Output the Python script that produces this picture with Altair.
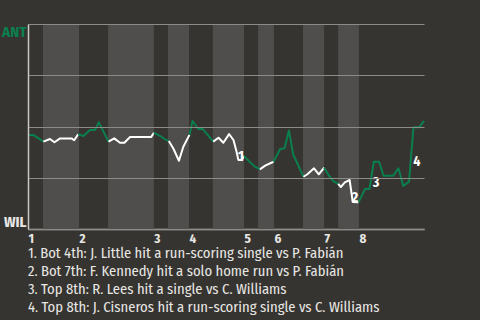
import bisect
import altair as alt
import pandas as pd

# ---- data ----
play = [0.0, 1.2, 3.5, 5.0, 6.0, 7.3, 9.9, 10.5, 11.4, 12.6, 14.1, 15.2, 16.1, 18.3,
        19.6, 20.9, 21.9, 23.2, 28.0, 28.6, 30.0, 31.1, 32.0, 33.0, 34.3, 35.3, 36.7,
        37.4, 38.7, 39.7, 42.1, 43.3, 44.4, 45.7, 46.7, 47.4, 47.8, 48.6, 49.1, 50.5,
        51.6, 52.7, 53.9, 55.8, 57.3, 58.3, 59.3, 60.3, 61.4, 62.6, 63.5, 65.0, 66.1,
        67.3, 68.3, 69.4, 70.5, 71.1, 72.0, 73.1, 73.8, 75.1, 76.6, 77.6, 78.6, 79.8,
        80.8, 83.0, 84.2, 85.3, 86.6, 87.6, 88.9, 90.0]
win_prob = [0.459, 0.459, 0.426, 0.439, 0.423, 0.442, 0.442, 0.433, 0.462, 0.454, 0.483,
            0.483, 0.520, 0.426, 0.442, 0.421, 0.421, 0.449, 0.449, 0.470, 0.454, 0.438,
            0.429, 0.394, 0.333, 0.401, 0.459, 0.527, 0.488, 0.488, 0.426, 0.445, 0.421,
            0.463, 0.434, 0.377, 0.337, 0.337, 0.356, 0.325, 0.304, 0.291, 0.309, 0.328,
            0.390, 0.394, 0.480, 0.361, 0.312, 0.255, 0.267, 0.296, 0.267, 0.299, 0.263,
            0.234, 0.220, 0.205, 0.227, 0.239, 0.132, 0.130, 0.195, 0.195, 0.328, 0.328,
            0.260, 0.260, 0.296, 0.210, 0.231, 0.496, 0.496, 0.527]

# half-inning boundaries (top 1st, bot 1st, top 2nd, ...) in play units
half_bounds = [0, 3.4, 11.6, 18.2, 28.6, 31.8, 36.6, 42.0, 49.1, 52.3, 55.9, 62.5,
               67.3, 70.5, 75.2, 90]
inning_labels = ["1", "2", "3", "4", "5", "6", "7", "8"]

event_ids = ["1", "2", "3", "4"]
event_x = [48.4, 74.3, 79.1, 88.4]
event_wp = [0.351, 0.150, 0.224, 0.327]

notes = [
    "1. Bot 4th: J. Little hit a run-scoring single vs P. Fabián",
    "2. Bot 7th: F. Kennedy hit a solo home run vs P. Fabián",
    "3. Top 8th: R. Lees hit a single vs C. Williams",
    "4. Top 8th: J. Cisneros hit a run-scoring single vs C. Williams",
]
team_top = "ANT"
team_bottom = "WIL"

# ---- styling ----
BG = "#363430"
BAND = "#4f4e4c"
GREEN = "#0a7f4e"
WHITE = "#ffffff"
TEXT = "#e8e7e4"
FONT = "'Fira Sans Condensed', 'Roboto Condensed', 'Liberation Sans Narrow', 'DejaVu Sans Condensed', Roboto, sans-serif"

# ---- derived tables ----
n_half = len(half_bounds) - 1
bands = pd.DataFrame({
    "x0": [half_bounds[k] for k in range(n_half) if k % 2 == 1],
    "x1": [half_bounds[k + 1] for k in range(n_half) if k % 2 == 1],
})

rows = []
seg_id = -1
prev_k = None
for i in range(1, len(play)):
    mid = (play[i - 1] + play[i]) / 2
    k = min(max(bisect.bisect_right(half_bounds, mid) - 1, 0), n_half - 1)
    if k != prev_k:
        seg_id += 1
        rows.append({"seg": seg_id, "half": "top" if k % 2 == 0 else "bottom",
                     "x": play[i - 1], "wp": win_prob[i - 1], "ord": i - 1})
        prev_k = k
    rows.append({"seg": seg_id, "half": "top" if k % 2 == 0 else "bottom",
                 "x": play[i], "wp": win_prob[i], "ord": i})
line_df = pd.DataFrame(rows)

inning_starts = [half_bounds[k] for k in range(0, n_half, 2)]
label_expr = "indexof([" + ",".join(str(v) for v in inning_starts) + "], datum.value) + 1"

events = pd.DataFrame({"id": event_ids, "x": event_x, "wp": event_wp})

xscale = alt.Scale(domain=[half_bounds[0], half_bounds[-1]], nice=False, zero=False)
yscale = alt.Scale(domain=[0, 1], nice=False)

xaxis = alt.Axis(values=inning_starts, labelExpr=label_expr, title=None, grid=False,
                 ticks=False, domainColor="#c9c8c5", domainWidth=1.5, labelAlign="left",
                 labelBaseline="top", labelPadding=3, labelFontSize=13,
                 labelFontWeight="bold", labelColor=TEXT, labelFont=FONT)
yaxis = alt.Axis(values=[0, 0.25, 0.5, 0.75, 1], title=None, ticks=False,
                 labelExpr=f"datum.value == 1 ? '{team_top}' : datum.value == 0 ? '{team_bottom}' : ''",
                 labelColor={"expr": f"datum.value == 1 ? '{GREEN}' : '{TEXT}'"},
                 labelFlush=True, labelPadding=2, labelFontSize=15, labelFontWeight="bold",
                 labelFont=FONT, grid=True, gridColor="#8c8b88", gridWidth=1,
                 domainColor="#c9c8c5", domainWidth=1.5, zindex=1)

band_layer = alt.Chart(bands).mark_rect(color=BAND).encode(
    x=alt.X("x0:Q", scale=xscale, axis=xaxis),
    x2="x1:Q",
    y=alt.datum(0, scale=yscale, axis=yaxis),
    y2=alt.datum(1),
)

line_layer = alt.Chart(line_df).mark_line(strokeWidth=2, strokeJoin="round").encode(
    x=alt.X("x:Q", scale=xscale, axis=xaxis),
    y=alt.Y("wp:Q", scale=yscale, axis=yaxis),
    detail="seg:N",
    order="ord:Q",
    color=alt.Color("half:N", scale=alt.Scale(domain=["top", "bottom"], range=[GREEN, WHITE]),
                    legend=None),
)

label_layer = alt.Chart(events).mark_text(fontSize=14, fontWeight="bold", color=WHITE,
                                          font=FONT, align="center", baseline="middle").encode(
    x=alt.X("x:Q", scale=xscale, axis=xaxis),
    y=alt.Y("wp:Q", scale=yscale, axis=yaxis),
    text="id:N",
)

chart = alt.layer(band_layer, line_layer, label_layer).properties(
    width=396,
    height=205,
    background=BG,
    padding={"left": 28, "top": 24, "right": 56, "bottom": 91},
    autosize=alt.AutoSizeParams(type="none"),
    title=alt.TitleParams(text=notes, orient="bottom", anchor="start", align="left",
                          fontSize=14.6, fontWeight="normal", color=TEXT, font=FONT,
                          lineHeight=18, offset=1, frame="group"),
).configure_view(stroke=None)

chart.save("out.html", embed_options={"renderer": "svg", "actions": False})
